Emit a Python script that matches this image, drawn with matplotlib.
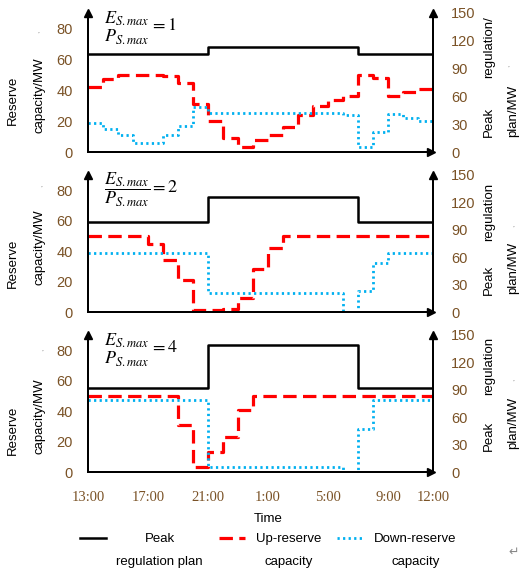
"""
    Reserve capacity and peak regulation plan for three storage
    energy/power ratios, drawn as three stacked step charts.
"""

#----Import all modules

import matplotlib
matplotlib.use( "Agg" )
import matplotlib.pyplot as plt
import numpy as np


#----Data (one value per hour, 13:00 -> 12:00 next day)

HOURS = list( range( 24 ) )
TICK_POS = [ 0, 4, 8, 12, 16, 20, 23 ]
TICK_LABELS = [ "13:00", "17:00", "21:00", "1:00", "5:00", "9:00", "12:00" ]
RATIOS = [ "1", "2", "4" ]

# peak regulation plan / MW (right axis)
peak1 = [ 106 ] * 8 + [ 113 ] * 10 + [ 106 ] * 5
peak2 = [ 99 ] * 8 + [ 126 ] * 10 + [ 99 ] * 5
peak3 = [ 92 ] * 8 + [ 139 ] * 10 + [ 92 ] * 5

# up-reserve capacity / MW (left axis)
up1 = [ 42, 47, 50, 50, 50, 49, 44.5, 31, 20, 9, 3.5, 8, 11, 16, 24, 30, 33.5, 36, 50, 48, 36, 39, 41 ]
up2 = [ 50, 50, 50, 50, 45, 34, 21, 1, 1, 2, 9, 28, 42, 50, 50, 50, 50, 50, 50, 50, 50, 50, 50 ]
up3 = [ 50, 50, 50, 50, 50, 50, 31, 3.5, 13, 23, 41, 50, 50, 50, 50, 50, 50, 50, 50, 50, 50, 50, 50 ]

# down-reserve capacity / MW (left axis)
down1 = [ 19, 15, 11, 6, 6, 11, 17, 29, 25.5, 25.5, 25.5, 25.5, 25.5, 25.5, 25.5, 25.5, 25.5, 24, 3, 13, 24.5, 22, 20 ]
down2 = [ 39 ] * 8 + [ 12.7 ] * 9 + [ 0.3, 14, 32, 39, 39, 39 ]
down3 = [ 47 ] * 8 + [ 3.5 ] * 9 + [ 0.3, 28.5, 47, 47, 47, 47 ]


#----Define All Functions

def px( x, y ):
    """ pixel position (from top-left) -> figure fraction """
    return x / 519, 1 - y / 576

# end px


def drawPanel( fig, rect, peak, up, down, ratio, showX ):

    """
    Draws one panel: reserve capacities on the left axis,
    the peak regulation plan on a twin right axis.
    """

    tickCol = "#7a5226"

    ax = fig.add_axes( rect )
    axR = ax.twinx()

    ax.step( HOURS, up + [ up[ -1 ] ], where='post', color='#ff0000', lw=2.3,
             dashes=( 4.2, 2.0 ), label='Up-reserve\ncapacity' )
    ax.step( HOURS, down + [ down[ -1 ] ], where='post', color='#00b0f0', lw=2.0,
             linestyle=( 0, ( 0.8, 1.2 ) ), label='Down-reserve\ncapacity' )
    axR.step( HOURS, peak + [ peak[ -1 ] ], where='post', color='black', lw=1.8,
              label='Peak\nregulation plan' )

    ax.set_xlim( 0, 23 )
    ax.set_ylim( 0, 90 )
    axR.set_ylim( 0, 150 )
    ax.set_yticks( [ 0, 20, 40, 60, 80 ] )
    axR.set_yticks( [ 0, 30, 60, 90, 120, 150 ] )

    for a in ( ax, axR ):
        a.spines[ 'top' ].set_visible( False )
        for s in ( 'left', 'right', 'bottom' ):
            a.spines[ s ].set_linewidth( 1.4 )
        a.tick_params( length=0, labelsize=10.5, colors=tickCol )
    ax.tick_params( axis='y', pad=11 )
    axR.tick_params( axis='y', pad=13 )

    if showX:
        ax.set_xticks( TICK_POS )
        ax.set_xticklabels( TICK_LABELS, family='Liberation Serif', fontsize=10.5 )
        ax.tick_params( axis='x', pad=14 )
    else:
        ax.set_xticks( [] )

    # arrow heads on the axes
    ax.plot( 0, 1, marker='^', color='k', ms=6, transform=ax.transAxes, clip_on=False )
    ax.plot( 1, 1, marker='^', color='k', ms=6, transform=ax.transAxes, clip_on=False )
    ax.plot( 0.995, 0, marker='>', color='k', ms=6, transform=ax.transAxes, clip_on=False )

    bar = '0' if ratio != "2" else '0.8'
    ax.text( 0.045, 0.89,
             r'$\genfrac{}{}{' + bar + r'}{0}{E_{S.max}}{P_{S.max}}=' + ratio + '$',
             transform=ax.transAxes, ha='left', va='center', fontsize=13 )

    return ax, axR

# end drawPanel


def createPlot():

    plt.rcParams[ 'font.family' ] = [ 'Liberation Sans', 'DejaVu Sans' ]
    plt.rcParams[ 'mathtext.fontset' ] = 'stix'

    fig = plt.figure( figsize=( 5.19, 5.76 ), dpi=100 )

    left, width = 88 / 519, 345 / 519
    rects = [ [ left, 1 - 152 / 576, width, 139 / 576 ],
              [ left, 1 - 312 / 576, width, 137 / 576 ],
              [ left, 1 - 472 / 576, width, 137 / 576 ] ]
    peaks = [ peak1, peak2, peak3 ]
    ups = [ up1, up2, up3 ]
    downs = [ down1, down2, down3 ]

    for i in range( 3 ):
        ax, axR = drawPanel( fig, rects[ i ], peaks[ i ], ups[ i ], downs[ i ],
                             RATIOS[ i ], i == 2 )

    # axis titles (pixel positions)
    leftLab = [ ( 100, 95 ), ( 263, 247 ), ( 430, 416 ) ]
    rightLab = [ ( 122, 47, 111, 'regulation/' ), ( 280, 212, 268, 'regulation' ),
                 ( 436, 366, 423, 'regulation' ) ]
    for i in range( 3 ):
        fig.text( *px( 13, leftLab[ i ][ 0 ] ), 'Reserve', rotation=90,
                  ha='center', va='center', fontsize=9.5 )
        fig.text( *px( 40, leftLab[ i ][ 1 ] ), 'capacity/MW', rotation=90,
                  ha='center', va='center', fontsize=9.5 )
        fig.text( *px( 489, rightLab[ i ][ 0 ] ), 'Peak', rotation=90,
                  ha='center', va='center', fontsize=9.5 )
        fig.text( *px( 489, rightLab[ i ][ 1 ] ), rightLab[ i ][ 3 ], rotation=90,
                  ha='center', va='center', fontsize=9.5 )
        fig.text( *px( 513, rightLab[ i ][ 2 ] ), 'plan/MW', rotation=90,
                  ha='center', va='center', fontsize=9.5 )

    # stray paragraph marks from the original document
    for x, y in [ ( 38, 32 ), ( 41, 186 ), ( 42, 350 ), ( 508, 66 ), ( 513, 226 ), ( 513, 380 ) ]:
        fig.text( *px( x, y ), ',', rotation=90, color='#999999', fontsize=6,
                  ha='center', va='center' )
    fig.text( *px( 514, 552 ), '\u21b5', color='#888888', fontsize=9,
              ha='center', va='center', family='DejaVu Sans' )

    fig.text( *px( 268, 519 ), 'Time', ha='center', va='center', fontsize=9.5 )

    h1, l1 = axR.get_legend_handles_labels()
    h2, l2 = ax.get_legend_handles_labels()
    leg = fig.legend( h1 + h2, l1 + l2, loc='upper center', ncol=3,
                      bbox_to_anchor=px( 268, 533 ), frameon=False, fontsize=9.5,
                      handlelength=2.0, handletextpad=0.8, columnspacing=1.2,
                      borderpad=0, borderaxespad=0 )
    for t in leg.get_texts():
        t.set_multialignment( 'center' )
        t.set_linespacing( 2.2 )

    # put each legend line level with the first text line
    for col in leg._legend_handle_box.get_children():
        for row in col.get_children():
            row.align = 'top'

    fig.savefig( "out.png", dpi=100 )

# end createPlot


def main():
    createPlot()

# end main


#----Entry point

if __name__ == "__main__":
    main()
